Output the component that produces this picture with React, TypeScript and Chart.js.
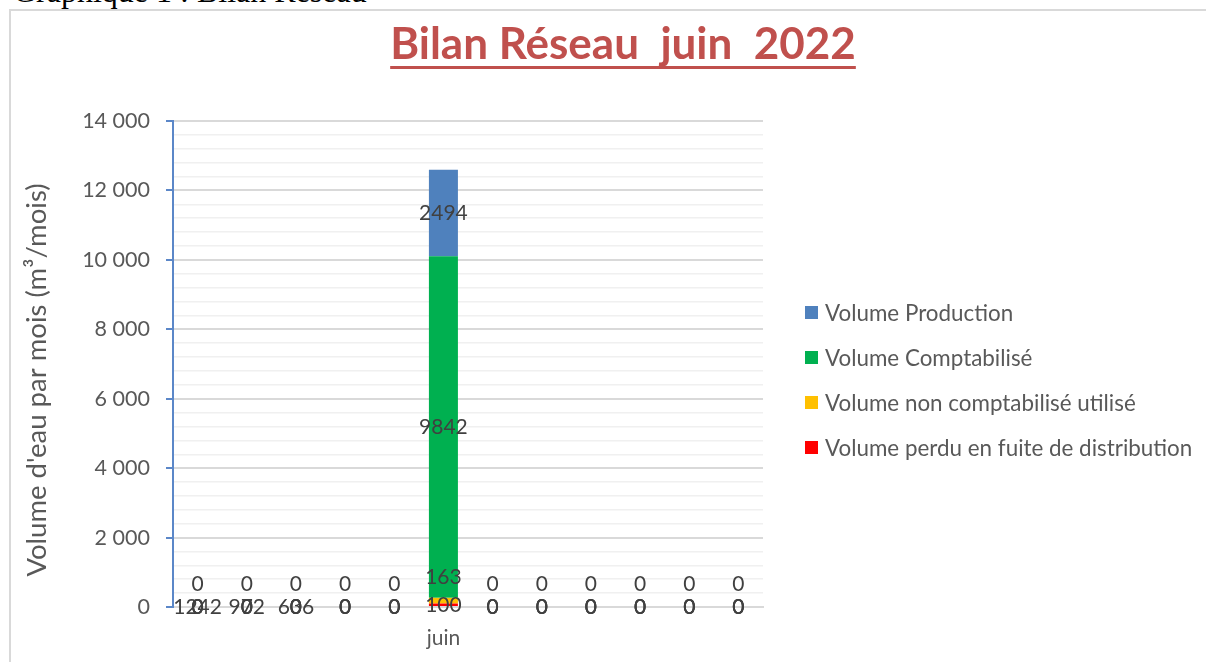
import React, { useEffect, useRef } from 'react';
import { Chart, registerables } from 'chart.js';

Chart.register(...registerables);

// ---- Données ----
const categories = ['', '', '', '', '', 'juin', '', '', '', '', '', ''];
const volumePerdu = [0, 0, 0, 0, 0, 100, 0, 0, 0, 0, 0, 0];
const volumeNonComptabilise = [0, 0, 0, 0, 0, 163, 0, 0, 0, 0, 0, 0];
const volumeComptabilise = [0, 0, 0, 0, 0, 9842, 0, 0, 0, 0, 0, 0];
const volumeProduction = [0, 0, 0, 0, 0, 2494, 0, 0, 0, 0, 0, 0];
const etiquettesBas = ['1242', '972', '636', '', '', '', '', '', '', '', '', ''];
const seriesNames = [
  'Volume perdu en fuite de distribution',
  'Volume non comptabilisé utilisé',
  'Volume Comptabilisé',
  'Volume Production',
];
const seriesColors = ['#FF0000', '#FFC000', '#00B050', '#4F81BD'];
const yMin = 0;
const yMax = 14000;
const yMajorStep = 2000;
const yMinorStep = 400;
const TITLE = 'Bilan Réseau  juin  2022';
const Y_TITLE = "Volume d'eau par mois (m³/mois)";

const FONT = 'Lato, "Open Sans", sans-serif';

const fmt = (v: number) => String(v).replace(/\B(?=(\d{3})+(?!\d))/g, ' ');

const labelPlugin = {
  id: 'etiquettes',
  afterDatasetsDraw(chart: any) {
    const ctx = chart.ctx;
    ctx.save();
    ctx.font = `21px ${FONT}`;
    ctx.fillStyle = '#404040';
    ctx.textAlign = 'center';
    ctx.textBaseline = 'middle';
    const xs = chart.scales.x;
    const ys = chart.scales.y;
    etiquettesBas.forEach((t, j) => {
      if (t) ctx.fillText(t, xs.getPixelForValue(j), ys.getPixelForValue(0));
    });
    chart.data.datasets.forEach((ds: any, i: number) => {
      const meta = chart.getDatasetMeta(i);
      meta.data.forEach((bar: any, j: number) => {
        const { x, y, base } = bar.getProps(['x', 'y', 'base'], true);
        const off = i === 1 ? -23 : 0;
        ctx.fillText(String(ds.data[j]), x, (y + base) / 2 + off);
      });
    });
    ctx.restore();
  },
};

const titlePlugin = {
  id: 'titreSouligne',
  afterDraw(chart: any) {
    const ctx = chart.ctx;
    ctx.save();
    ctx.font = `bold 44px ${FONT}`;
    ctx.fillStyle = '#C0504D';
    ctx.textAlign = 'center';
    ctx.textBaseline = 'alphabetic';
    const cx = 623;
    ctx.fillText(TITLE, cx, 59);
    const w = ctx.measureText(TITLE).width;
    ctx.fillRect(cx - w / 2, 66, w, 3);
    ctx.restore();

    // titre de l'axe vertical
    const { top, bottom } = chart.chartArea;
    ctx.save();
    ctx.font = `27.5px ${FONT}`;
    ctx.fillStyle = '#595959';
    ctx.textAlign = 'center';
    ctx.textBaseline = 'middle';
    ctx.translate(37, (top + bottom) / 2 + 16);
    ctx.rotate(-Math.PI / 2);
    ctx.fillText(Y_TITLE, 0, 0);
    ctx.restore();
  },
};

export default function App() {
  const ref = useRef<HTMLCanvasElement | null>(null);

  useEffect(() => {
    if (!ref.current) return;
    const values = [volumePerdu, volumeNonComptabilise, volumeComptabilise, volumeProduction];
    const chart = new Chart(ref.current, {
      type: 'bar',
      data: {
        labels: categories,
        datasets: values.map((d, i) => ({
          label: seriesNames[i],
          data: d,
          backgroundColor: seriesColors[i],
          borderWidth: 0,
          barPercentage: 0.59,
          categoryPercentage: 1,
        })),
      },
      options: {
        animation: false,
        responsive: false,
        devicePixelRatio: 1,
        layout: { padding: { left: 0, top: 121, right: 443, bottom: 0 } },
        plugins: {
          legend: { display: false },
          title: { display: false },
          tooltip: { enabled: false },
        },
        scales: {
          x: {
            stacked: true,
            afterFit: (s: any) => {
              s.height = 55;
            },
            grid: { display: false, drawTicks: false },
            border: { display: true, color: '#d9d9d9', width: 2 },
            ticks: {
              autoSkip: false,
              maxRotation: 0,
              color: '#595959',
              font: { family: FONT, size: 21 },
              padding: 19,
            },
          },
          y: {
            stacked: true,
            min: yMin,
            max: yMax,
            afterFit: (s: any) => {
              s.width = 173;
            },
            ticks: {
              stepSize: yMinorStep,
              autoSkip: false,
              color: '#595959',
              font: { family: FONT, size: 21.5 },
              padding: 16,
              callback: (v: any) => (Number(v) % yMajorStep === 0 ? fmt(Number(v)) : ''),
            },
            grid: {
              color: (c: any) =>
                c.tick && c.tick.value % yMajorStep === 0 ? '#d9d9d9' : '#f0f0f0',
              lineWidth: (c: any) => (c.tick && c.tick.value % yMajorStep === 0 ? 2 : 1.5),
              drawTicks: true,
              tickLength: 7,
              tickColor: (c: any) =>
                c.tick && c.tick.value % yMajorStep === 0 ? '#5B87C8' : 'rgba(0,0,0,0)',
              tickWidth: 2,
            },
            border: { display: true, color: '#5B87C8', width: 2 },
            title: { display: false },
          },
        },
      },
      plugins: [labelPlugin, titlePlugin],
    });
    return () => chart.destroy();
  }, []);

  const legendItems = seriesNames.map((n, i) => ({ n, c: seriesColors[i] })).reverse();

  return (
    <div style={{ position: 'absolute', left: 0, top: 0, width: 1206, height: 662, overflow: 'hidden', background: '#fff' }}>
      <div
        style={{
          position: 'absolute',
          left: 13,
          top: -25,
          fontFamily: '"Liberation Serif", "Times New Roman", serif',
          fontSize: 32,
          lineHeight: '32px',
          whiteSpace: 'pre',
          color: '#000',
        }}
      >
        Graphique 1 : Bilan Réseau
      </div>
      <div
        style={{
          position: 'absolute',
          left: 9,
          top: 9,
          width: 1220,
          height: 680,
          border: '2px solid #d9d9d9',
          boxSizing: 'border-box',
        }}
      />
      <canvas ref={ref} width={1206} height={662} style={{ position: 'absolute', left: 0, top: 0 }} />
      {legendItems.map((it, k) => (
        <div
          key={it.n}
          style={{
            position: 'absolute',
            left: 805,
            top: 312 + k * 45 - 13,
            height: 26,
            display: 'flex',
            alignItems: 'center',
            fontFamily: FONT,
            fontSize: 22.4,
            color: '#595959',
            whiteSpace: 'nowrap',
          }}
        >
          <span style={{ display: 'inline-block', width: 13, height: 13, background: it.c, marginRight: 7 }} />
          {it.n}
        </div>
      ))}
    </div>
  );
}
